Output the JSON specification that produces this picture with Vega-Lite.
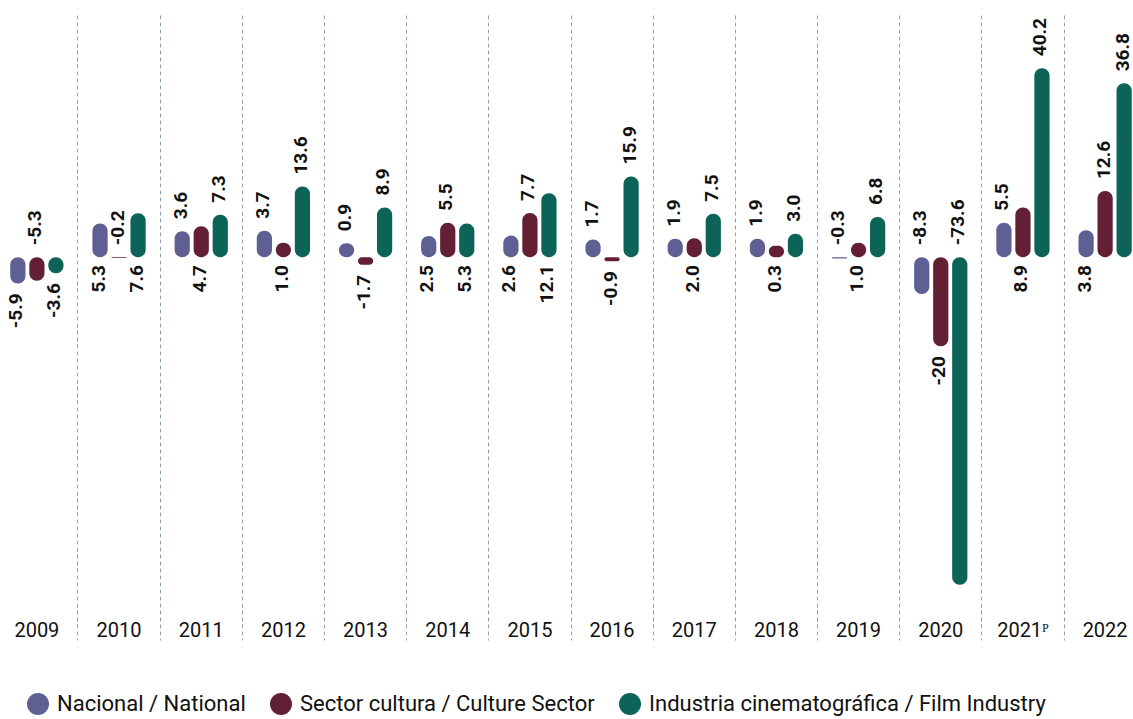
{
  "$schema": "https://vega.github.io/schema/vega-lite/v6.json",
  "width": 1133,
  "height": 625,
  "autosize": {"type": "none"},
  "padding": {"left": 0, "top": 15, "right": 0, "bottom": 79},
  "background": "white",
  "config": {"view": {"stroke": null}},
  "data": {
    "values": [
      {"anio": "2009", "serie": "Nacional / National", "valor": -5.9, "etiqueta": "-5.9"},
      {"anio": "2009", "serie": "Sector cultura / Culture Sector", "valor": -5.3, "etiqueta": "-5.3"},
      {"anio": "2009", "serie": "Industria cinematográfica / Film Industry", "valor": -3.6, "etiqueta": "-3.6"},
      {"anio": "2010", "serie": "Nacional / National", "valor": 5.3, "etiqueta": "5.3"},
      {"anio": "2010", "serie": "Sector cultura / Culture Sector", "valor": -0.2, "etiqueta": "-0.2"},
      {"anio": "2010", "serie": "Industria cinematográfica / Film Industry", "valor": 7.6, "etiqueta": "7.6"},
      {"anio": "2011", "serie": "Nacional / National", "valor": 3.6, "etiqueta": "3.6"},
      {"anio": "2011", "serie": "Sector cultura / Culture Sector", "valor": 4.7, "etiqueta": "4.7"},
      {"anio": "2011", "serie": "Industria cinematográfica / Film Industry", "valor": 7.3, "etiqueta": "7.3"},
      {"anio": "2012", "serie": "Nacional / National", "valor": 3.7, "etiqueta": "3.7"},
      {"anio": "2012", "serie": "Sector cultura / Culture Sector", "valor": 1.0, "etiqueta": "1.0"},
      {"anio": "2012", "serie": "Industria cinematográfica / Film Industry", "valor": 13.6, "etiqueta": "13.6"},
      {"anio": "2013", "serie": "Nacional / National", "valor": 0.9, "etiqueta": "0.9"},
      {"anio": "2013", "serie": "Sector cultura / Culture Sector", "valor": -1.7, "etiqueta": "-1.7"},
      {"anio": "2013", "serie": "Industria cinematográfica / Film Industry", "valor": 8.9, "etiqueta": "8.9"},
      {"anio": "2014", "serie": "Nacional / National", "valor": 2.5, "etiqueta": "2.5"},
      {"anio": "2014", "serie": "Sector cultura / Culture Sector", "valor": 5.5, "etiqueta": "5.5"},
      {"anio": "2014", "serie": "Industria cinematográfica / Film Industry", "valor": 5.3, "etiqueta": "5.3"},
      {"anio": "2015", "serie": "Nacional / National", "valor": 2.6, "etiqueta": "2.6"},
      {"anio": "2015", "serie": "Sector cultura / Culture Sector", "valor": 7.7, "etiqueta": "7.7"},
      {"anio": "2015", "serie": "Industria cinematográfica / Film Industry", "valor": 12.1, "etiqueta": "12.1"},
      {"anio": "2016", "serie": "Nacional / National", "valor": 1.7, "etiqueta": "1.7"},
      {"anio": "2016", "serie": "Sector cultura / Culture Sector", "valor": -0.9, "etiqueta": "-0.9"},
      {"anio": "2016", "serie": "Industria cinematográfica / Film Industry", "valor": 15.9, "etiqueta": "15.9"},
      {"anio": "2017", "serie": "Nacional / National", "valor": 1.9, "etiqueta": "1.9"},
      {"anio": "2017", "serie": "Sector cultura / Culture Sector", "valor": 2.0, "etiqueta": "2.0"},
      {"anio": "2017", "serie": "Industria cinematográfica / Film Industry", "valor": 7.5, "etiqueta": "7.5"},
      {"anio": "2018", "serie": "Nacional / National", "valor": 1.9, "etiqueta": "1.9"},
      {"anio": "2018", "serie": "Sector cultura / Culture Sector", "valor": 0.3, "etiqueta": "0.3"},
      {"anio": "2018", "serie": "Industria cinematográfica / Film Industry", "valor": 3.0, "etiqueta": "3.0"},
      {"anio": "2019", "serie": "Nacional / National", "valor": -0.3, "etiqueta": "-0.3"},
      {"anio": "2019", "serie": "Sector cultura / Culture Sector", "valor": 1.0, "etiqueta": "1.0"},
      {"anio": "2019", "serie": "Industria cinematográfica / Film Industry", "valor": 6.8, "etiqueta": "6.8"},
      {"anio": "2020", "serie": "Nacional / National", "valor": -8.3, "etiqueta": "-8.3"},
      {"anio": "2020", "serie": "Sector cultura / Culture Sector", "valor": -20, "etiqueta": "-20"},
      {"anio": "2020", "serie": "Industria cinematográfica / Film Industry", "valor": -73.6, "etiqueta": "-73.6"},
      {"anio": "2021ᴾ", "serie": "Nacional / National", "valor": 5.5, "etiqueta": "5.5"},
      {"anio": "2021ᴾ", "serie": "Sector cultura / Culture Sector", "valor": 8.9, "etiqueta": "8.9"},
      {"anio": "2021ᴾ", "serie": "Industria cinematográfica / Film Industry", "valor": 40.2, "etiqueta": "40.2"},
      {"anio": "2022", "serie": "Nacional / National", "valor": 3.8, "etiqueta": "3.8"},
      {"anio": "2022", "serie": "Sector cultura / Culture Sector", "valor": 12.6, "etiqueta": "12.6"},
      {"anio": "2022", "serie": "Industria cinematográfica / Film Industry", "valor": 36.8, "etiqueta": "36.8"}
    ]
  },
  "transform": [
    {
      "calculate": "datum.serie === 'Sector cultura / Culture Sector' ? indexof(['2009','2010','2014','2015','2022'], datum.anio) >= 0 : (datum.serie === 'Nacional / National' ? indexof(['2009','2010','2014','2015','2022'], datum.anio) < 0 : indexof(['2009','2010','2014','2015'], datum.anio) < 0)",
      "as": "arriba"
    }
  ],
  "encoding": {
    "x": {
      "field": "anio",
      "type": "nominal",
      "sort": ["2009", "2010", "2011", "2012", "2013", "2014", "2015", "2016", "2017", "2018", "2019", "2020", "2021ᴾ", "2022"],
      "scale": {"range": [-4.2, 1146.2], "paddingInner": 0, "paddingOuter": 0},
      "axis": {
        "title": null,
        "bandPosition": 0,
        "grid": true,
        "gridDash": [4, 3],
        "gridColor": "#8ea5b7",
        "gridWidth": 1,
        "ticks": false,
        "tickSize": 0,
        "domain": false,
        "labelAngle": 0,
        "labelPadding": -10,
        "labelBaseline": "middle",
        "labelAlign": "center",
        "labelFont": "Roboto",
        "labelFontSize": 20,
        "labelColor": "#111111",
        "labelOverlap": false
      }
    },
    "xOffset": {
      "field": "serie",
      "type": "nominal",
      "sort": ["Nacional / National", "Sector cultura / Culture Sector", "Industria cinematográfica / Film Industry"],
      "scale": {"paddingInner": 0.2, "paddingOuter": 0.76}
    },
    "y": {
      "field": "valor",
      "type": "quantitative",
      "scale": {"domain": [-86.0, 54.4], "nice": false, "zero": false},
      "axis": null
    }
  },
  "layer": [
    {
      "transform": [{"filter": "datum.valor >= 0"}],
      "mark": {"type": "bar", "cornerRadius": 7.5, "yOffset": -10},
      "encoding": {
        "y2": {"datum": 0},
        "color": {
          "field": "serie",
          "type": "nominal",
          "scale": {
            "domain": ["Nacional / National", "Sector cultura / Culture Sector", "Industria cinematográfica / Film Industry"],
            "range": ["#5e5f93", "#632034", "#0c6358"]
          },
          "legend": {
            "orient": "none",
            "legendX": 27,
            "legendY": 678,
            "direction": "horizontal",
            "title": null,
            "symbolType": "circle",
            "symbolSize": 484,
            "symbolOpacity": 1,
            "symbolStrokeWidth": 0,
            "labelFont": "Roboto",
            "labelFontSize": 22,
            "labelColor": "#111111",
            "labelOffset": 8,
            "columnPadding": 24,
            "labelLimit": 600
          }
        }
      }
    },
    {
      "transform": [{"filter": "datum.valor < 0"}],
      "mark": {"type": "bar", "cornerRadius": 7.5},
      "encoding": {
        "y2": {"datum": 0},
        "color": {"field": "serie", "type": "nominal"}
      }
    },
    {
      "transform": [{"filter": "datum.arriba && datum.valor >= 0"}],
      "mark": {"type": "text", "angle": 270, "align": "left", "baseline": "middle", "dx": 22, "dy": -1.5, "font": "Roboto", "fontSize": 19, "fontWeight": "bold", "color": "#111111"},
      "encoding": {"text": {"field": "etiqueta"}}
    },
    {
      "transform": [{"filter": "datum.arriba && datum.valor < 0"}],
      "mark": {"type": "text", "angle": 270, "align": "left", "baseline": "middle", "dx": 12, "dy": -1.5, "font": "Roboto", "fontSize": 19, "fontWeight": "bold", "color": "#111111"},
      "encoding": {"text": {"field": "etiqueta"}, "y": {"datum": 0}}
    },
    {
      "transform": [{"filter": "!datum.arriba && datum.valor >= 0"}],
      "mark": {"type": "text", "angle": 270, "align": "right", "baseline": "middle", "dx": -8, "dy": -1.5, "font": "Roboto", "fontSize": 19, "fontWeight": "bold", "color": "#111111"},
      "encoding": {"text": {"field": "etiqueta"}, "y": {"datum": 0}}
    },
    {
      "transform": [{"filter": "!datum.arriba && datum.valor < 0"}],
      "mark": {"type": "text", "angle": 270, "align": "right", "baseline": "middle", "dx": -10, "dy": -1.5, "font": "Roboto", "fontSize": 19, "fontWeight": "bold", "color": "#111111"},
      "encoding": {"text": {"field": "etiqueta"}}
    }
  ]
}
